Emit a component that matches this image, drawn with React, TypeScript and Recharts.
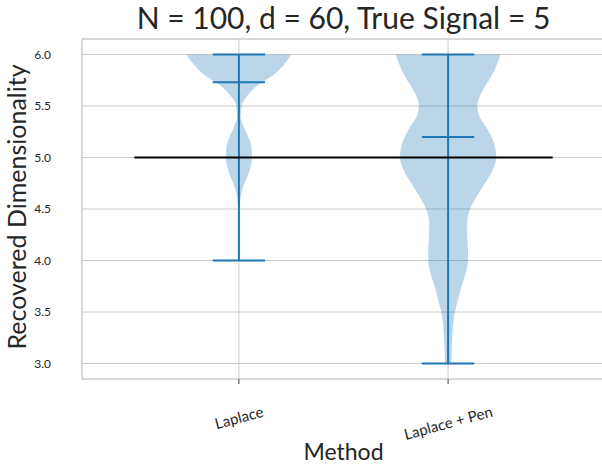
import React from "react";
import {
  ComposedChart,
  Area,
  XAxis,
  YAxis,
  CartesianGrid,
  ReferenceLine,
  Label,
} from "recharts";

// categories and their x positions
const methods = ["Laplace", "Laplace + Pen"];
const positions = [1, 2];

// y levels at which the violin outlines were read (top to bottom)
const yLevels = [
  6.0, 5.9, 5.8, 5.7, 5.6, 5.5, 5.4, 5.3, 5.2, 5.1, 5.0, 4.9, 4.8, 4.7, 4.6, 4.5,
  4.4, 4.3, 4.2, 4.1, 4.0, 3.9, 3.8, 3.7, 3.6, 3.5, 3.4, 3.3, 3.2, 3.1, 3.0,
];

// relative density (1 = widest) for each violin at the levels above
const laplaceDensity = [
  1.0, 0.86, 0.66, 0.36, 0.16, 0.05, 0.035, 0.09, 0.18, 0.24, 0.25, 0.22, 0.15, 0.07, 0.03, 0.012,
  0.006, 0.004, 0.003, 0.002, 0.002, null, null, null, null, null, null, null, null, null, null,
];
const penDensity = [
  1.0, 0.93, 0.84, 0.72, 0.61, 0.56, 0.6, 0.72, 0.83, 0.9, 0.92, 0.87, 0.77, 0.64, 0.52, 0.42,
  0.37, 0.36, 0.37, 0.38, 0.38, 0.35, 0.29, 0.23, 0.18, 0.13, 0.1, 0.085, 0.075, 0.065, 0.06,
];

// extrema and means per method
const mins = [4.0, 3.0];
const maxs = [6.0, 6.0];
const means = [5.73, 5.2];

const trueSignal = 5;
const signalSpan = [0.5, 2.5];

const yTicks = [3.0, 3.5, 4.0, 4.5, 5.0, 5.5, 6.0];
const yDomain = [2.85, 6.15];
const xDomain = [0.25, 2.75];

const HALF_WIDTH = 0.25;
const CAP = 0.125;
const BLUE = "#1f77b4";
const GRID = "#cccccc";
const TEXT = "#262626";
const FONT = "Lato, 'DejaVu Sans', sans-serif";

const rows = yLevels.map((y, i) => ({ y, lap: laplaceDensity[i], pen: penDensity[i] }));

const violinKey = (pos: number, key: "lap" | "pen") => (d: any) =>
  d[key] == null ? null : [pos - HALF_WIDTH * d[key], pos + HALF_WIDTH * d[key]];

let measureCtx: CanvasRenderingContext2D | null = null;
const textWidth = (s: string, size: number) => {
  if (!measureCtx) measureCtx = document.createElement("canvas").getContext("2d");
  if (!measureCtx) return s.length * size * 0.5;
  measureCtx.font = `${size}px Lato`;
  return measureCtx.measureText(s).width;
};

// rotated category label, top of its box sits at a fixed line
const XTick = (props: any) => {
  const { x, payload } = props;
  const label = methods[positions.indexOf(payload.value)] ?? "";
  const w = textWidth(label, 15);
  const cy = 406 + (w * 0.2588 + 9.5 * 0.966) / 2;
  return (
    <text
      x={x}
      y={cy}
      textAnchor="middle"
      dominantBaseline="central"
      fontSize={15}
      fill={TEXT}
      fontFamily={FONT}
      transform={`rotate(-15, ${x}, ${cy})`}
    >
      {label}
    </text>
  );
};

export default function App() {
  return (
    <div style={{ position: "absolute", left: 0, top: 0, width: 602, height: 465, overflow: "hidden", background: "#fff", fontFamily: FONT }}>
      <div
        style={{
          position: "absolute",
          left: 82,
          width: 523,
          top: 0,
          textAlign: "center",
          fontSize: 30,
          lineHeight: "34px",
          color: TEXT,
        }}
      >
        N = 100, d = 60, True Signal = 5
      </div>
      <ComposedChart
        width={606}
        height={465}
        data={rows}
        layout="vertical"
        margin={{ top: 39, right: 1, left: 0, bottom: 0 }}
      >
        <CartesianGrid stroke={GRID} strokeWidth={1} />
        <XAxis
          type="number"
          domain={xDomain}
          ticks={positions}
          allowDataOverflow
          height={86}
          stroke={GRID}
          tick={<XTick />}
          tickLine={{ stroke: "#444" }}
          tickSize={5}
        >
          <Label
            content={() => (
              <text x={343.5} y={460} textAnchor="middle" fontSize={23} fill={TEXT} fontFamily={FONT}>
                Method
              </text>
            )}
          />
        </XAxis>
        <YAxis
          type="number"
          dataKey="y"
          domain={yDomain}
          ticks={yTicks}
          reversed
          allowDataOverflow
          width={82}
          stroke={GRID}
          tickLine={false}
          tickMargin={25}
          tickFormatter={(v: number) => v.toFixed(1)}
          tick={{ fontSize: 12, fill: TEXT, fontFamily: FONT }}
        >
          <Label
            content={() => (
              <text
                x={26}
                y={207}
                textAnchor="middle"
                fontSize={25}
                fill={TEXT}
                fontFamily={FONT}
                transform="rotate(-90, 26, 207)"
              >
                Recovered Dimensionality
              </text>
            )}
          />
        </YAxis>
        <ReferenceLine y={yDomain[1]} stroke={GRID} ifOverflow="visible" />
        <Area
          dataKey={violinKey(positions[0], "lap")}
          type="monotone"
          fill={BLUE}
          fillOpacity={0.3}
          stroke="none"
          isAnimationActive={false}
          dot={false}
          activeDot={false}
        />
        <Area
          dataKey={violinKey(positions[1], "pen")}
          type="monotone"
          fill={BLUE}
          fillOpacity={0.3}
          stroke="none"
          isAnimationActive={false}
          dot={false}
          activeDot={false}
        />
        {positions.map((p, i) => (
          <ReferenceLine
            key={`stem-${i}`}
            segment={[{ x: p, y: mins[i] }, { x: p, y: maxs[i] }]}
            stroke={BLUE}
            strokeWidth={2}
          />
        ))}
        {positions.flatMap((p, i) =>
          [mins[i], maxs[i], means[i]].map((v, j) => (
            <ReferenceLine
              key={`cap-${i}-${j}`}
              segment={[{ x: p - CAP, y: v }, { x: p + CAP, y: v }]}
              stroke={BLUE}
              strokeWidth={2}
            />
          ))
        )}
        <ReferenceLine
          segment={[{ x: signalSpan[0], y: trueSignal }, { x: signalSpan[1], y: trueSignal }]}
          stroke="#000"
          strokeWidth={2}
        />
      </ComposedChart>
    </div>
  );
}
